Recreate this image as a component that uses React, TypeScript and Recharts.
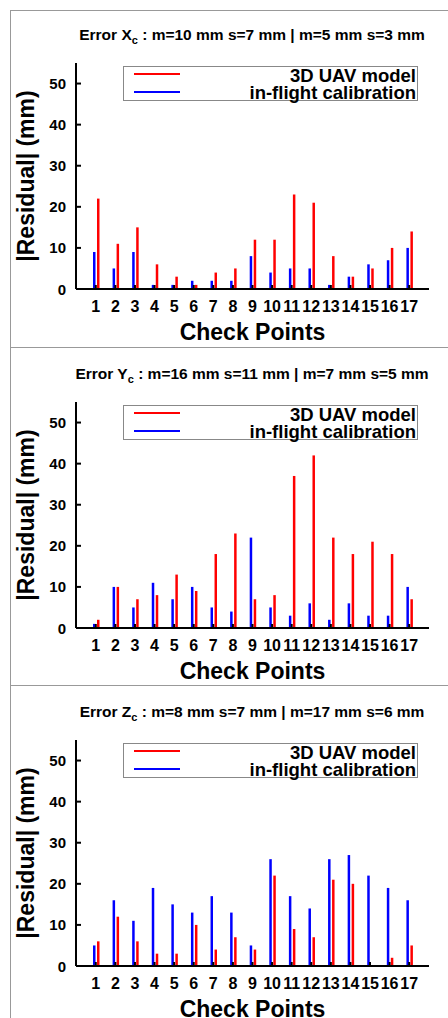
import { BarChart, Bar, XAxis, YAxis } from 'recharts'

const checkPoints = ['1', '2', '3', '4', '5', '6', '7', '8', '9', '10', '11', '12', '13', '14', '15', '16', '17']

const xcModel = [22, 11, 15, 6, 3, 1, 4, 5, 12, 12, 23, 21, 8, 3, 5, 10, 14]
const xcFlight = [9, 5, 9, 1, 1, 2, 2, 2, 8, 4, 5, 5, 1, 3, 6, 7, 10]
const ycModel = [2, 10, 7, 8, 13, 9, 18, 23, 7, 8, 37, 42, 22, 18, 21, 18, 7]
const ycFlight = [1, 10, 5, 11, 7, 10, 5, 4, 22, 5, 3, 6, 2, 6, 3, 3, 10]
const zcModel = [6, 12, 6, 3, 3, 10, 4, 7, 4, 22, 9, 7, 21, 20, 0, 2, 5]
const zcFlight = [5, 16, 11, 19, 15, 13, 17, 13, 5, 26, 17, 14, 26, 27, 22, 19, 16]

const yTicks = [0, 10, 20, 30, 40, 50]
const seriesNames = ['3D UAV model', 'in-flight calibration']
const seriesColors = ['#ff0000', '#0000ff']

const FONT = '"Liberation Sans", Arial, Helvetica, sans-serif'
const PLOT_H = 226
const TOP_M = 55

function BottomTick(props: any) {
  const { x, y, payload } = props
  return (
    <g>
      <line x1={x} x2={x} y1={y - 4} y2={y} stroke="#000" strokeWidth={2} />
      <text x={x} y={y + 23} textAnchor="middle" fontSize={16} fontWeight="bold" fontFamily={FONT} fill="#000">
        {payload.value}
      </text>
    </g>
  )
}

function TopTick(props: any) {
  const { x, y } = props
  return <line x1={x} x2={x} y1={y} y2={y + 4} stroke="#000" strokeWidth={2} />
}

function LeftTick(props: any) {
  const { x, y, payload } = props
  return (
    <g>
      <line x1={x} x2={x + 5} y1={y} y2={y} stroke="#000" strokeWidth={2} />
      <text x={x - 10} y={y + 5.5} textAnchor="end" fontSize={15} fontWeight="bold" fontFamily={FONT} fill="#000">
        {payload.value}
      </text>
    </g>
  )
}

function RightTick(props: any) {
  const { x, y } = props
  return <line x1={x - 5} x2={x} y1={y} y2={y} stroke="#000" strokeWidth={2} />
}

// legend drawn as a small overlay so it doesn't push the plot area around
function LegendBox({ top }: { top: number }) {
  const order = [0, 1]
  return (
    <div style={{ position: 'absolute', left: 123, top, width: 296, height: 36 }}>
      <svg width={296} height={36} style={{ overflow: 'visible' }}>
        <rect x={0.5} y={0.5} width={294} height={34} fill="#fff" stroke="#888" strokeWidth={1} />
        {order.map((i) => (
          <g key={i}>
            <line x1={11} x2={57} y1={8 + i * 18} y2={8 + i * 18} stroke={seriesColors[i]} strokeWidth={2} />
            <text x={293} y={15.5 + i * 17.5} textAnchor="end" fontSize={18.5} fontWeight="bold" fontFamily={FONT} fill="#000">
              {seriesNames[i]}
            </text>
          </g>
        ))}
      </svg>
    </div>
  )
}

function Panel({ axis, stats, model, flight, plotTop }: { axis: string; stats: string; model: number[]; flight: number[]; plotTop: number }) {
  const data = checkPoints.map((p, i) => ({ point: p, model: model[i], flight: flight[i] }))
  return (
    <>
      <div style={{ position: 'absolute', left: 0, top: plotTop - TOP_M }}>
        <BarChart
          width={448}
          height={TOP_M + PLOT_H + 64}
          data={data}
          margin={{ top: TOP_M, right: 19, left: 0, bottom: 0 }}
          barGap={1.5}
          barSize={2.5}
        >
          <text x={252} y={TOP_M - 23} textAnchor="middle" fontSize={15.5} fontWeight="bold" fontFamily={FONT} fill="#000">
            {'Error ' + axis}
            <tspan dy={4} fontSize={11}>c</tspan>
            <tspan dy={-4}>{' : ' + stats}</tspan>
          </text>
          <Bar dataKey="flight" name={seriesNames[1]} xAxisId="bottom" yAxisId="left" fill={seriesColors[1]} isAnimationActive={false} />
          <Bar dataKey="model" name={seriesNames[0]} xAxisId="bottom" yAxisId="left" fill={seriesColors[0]} isAnimationActive={false} />
          <XAxis
            xAxisId="bottom"
            dataKey="point"
            height={64}
            interval={0}
            padding={{ left: 10, right: 10 }}
            tickSize={0}
            tickMargin={0}
            tickLine={false}
            axisLine={{ stroke: '#000', strokeWidth: 2 }}
            tick={<BottomTick />}
            label={{
              content: (p: any) => {
                const vb = p.viewBox
                return (
                  <text x={vb.x + vb.width / 2} y={vb.y + 51} textAnchor="middle" fontSize={23} fontWeight="bold" fontFamily={FONT} fill="#000">
                    Check Points
                  </text>
                )
              },
            }}
          />
          <XAxis
            xAxisId="top"
            orientation="top"
            dataKey="point"
            height={0}
            interval={0}
            padding={{ left: 10, right: 10 }}
            tickSize={0}
            tickMargin={0}
            tickLine={false}
            axisLine={{ stroke: '#000', strokeWidth: 2 }}
            tick={<TopTick />}
          />
          <YAxis
            yAxisId="left"
            width={76}
            domain={[0, 55]}
            ticks={yTicks}
            interval={0}
            tickSize={0}
            tickMargin={0}
            tickLine={false}
            axisLine={{ stroke: '#000', strokeWidth: 2 }}
            tick={<LeftTick />}
            label={{
              content: (p: any) => {
                const vb = p.viewBox
                const cx = 34
                const cy = vb.y + vb.height / 2
                return (
                  <text x={cx} y={cy} transform={`rotate(-90, ${cx}, ${cy})`} textAnchor="middle" fontSize={23} fontWeight="bold" fontFamily={FONT} fill="#000">
                    |Residual| (mm)
                  </text>
                )
              },
            }}
          />
          <YAxis
            yAxisId="right"
            orientation="right"
            width={0}
            domain={[0, 55]}
            ticks={yTicks}
            interval={0}
            tickSize={0}
            tickMargin={0}
            tickLine={false}
            axisLine={{ stroke: '#000', strokeWidth: 2 }}
            tick={<RightTick />}
          />
        </BarChart>
      </div>
      <LegendBox top={plotTop + 3} />
    </>
  )
}

export default function App() {
  return (
    <div style={{ position: 'absolute', left: 0, top: 0, width: 448, height: 1018, overflow: 'hidden', background: '#fff' }}>
      <div style={{ position: 'absolute', left: 10, top: 10, width: 460, height: 337, borderTop: '1px solid #999', borderLeft: '1px solid #999' }} />
      <div style={{ position: 'absolute', left: 10, top: 347, width: 460, height: 338, borderTop: '1px solid #999', borderLeft: '1px solid #999' }} />
      <div style={{ position: 'absolute', left: 10, top: 685, width: 460, height: 400, borderTop: '1px solid #999', borderLeft: '1px solid #999' }} />
      <Panel axis="X" stats="m=10 mm s=7 mm | m=5 mm s=3 mm" model={xcModel} flight={xcFlight} plotTop={63} />
      <Panel axis="Y" stats="m=16 mm s=11 mm | m=7 mm s=5 mm" model={ycModel} flight={ycFlight} plotTop={402} />
      <Panel axis="Z" stats="m=8 mm s=7 mm | m=17 mm s=6 mm" model={zcModel} flight={zcFlight} plotTop={740} />
    </div>
  )
}
